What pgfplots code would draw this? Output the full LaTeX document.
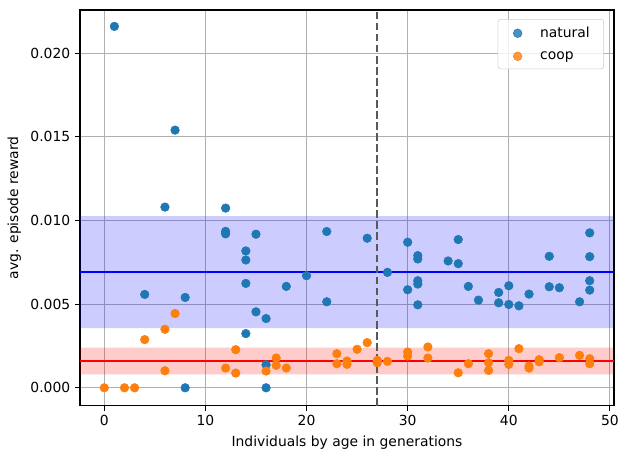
\documentclass[border=0pt]{standalone}
\usepackage{fontspec}
\setmainfont{DejaVu Sans}
\usepackage{pgfplots}
\pgfplotsset{compat=1.18}
\definecolor{tabblue}{HTML}{1F77B4}
\definecolor{taborange}{HTML}{FF7F0E}
\begin{document}
\begin{tikzpicture}
\begin{axis}[
  scale only axis,
  width=384.5pt, height=285pt,
  xmin=-2.4, xmax=50.4,
  ymin=-0.001075, ymax=0.02258,
  xtick={0,10,20,30,40,50},
  ytick={0,0.005,0.010,0.015,0.020},
  scaled y ticks=false,
  yticklabel style={/pgf/number format/fixed, /pgf/number format/fixed zerofill, /pgf/number format/precision=3},
  /pgf/number format/assume math mode=true,
  tick label style={font=\fontsize{10}{12}\selectfont},
  label style={font=\fontsize{10}{12}\selectfont},
  xlabel={Individuals by age in generations},
  ylabel={avg. episode reward},
  grid=major,
  grid style={color=black!31, line width=0.8pt},
  tick align=outside, tick pos=left,
  major tick length=3.5pt,
  every tick/.style={black, line width=0.8pt},
  axis line style={line width=0.8pt},
  legend image code/.code={\path (0pt,0pt) (20pt,0pt); \draw[#1] plot coordinates {(10pt,0pt)};},
  legend style={at={(1,1)}, xshift=-7.2pt, yshift=-6.5pt, anchor=north east, draw=black!20, rounded corners=2pt, fill=white, fill opacity=0.8, text opacity=1, font=\fontsize{10}{12}\selectfont, row sep=6.5pt, inner xsep=4pt, inner ysep=4.5pt, nodes={inner xsep=6pt, inner ysep=1pt}},
  legend cell align=left,
]
\addplot[only marks, mark=*, mark size=3.1pt, color=tabblue, mark options={draw=tabblue, fill=tabblue}] coordinates {
(1,0.0216) (4,0.00558) (6,0.0108) (7,0.0154) (8,0.0054) (8,0.0)
(12,0.01074) (12,0.00935) (12,0.0092)
(14,0.00818) (14,0.00764) (14,0.00624) (14,0.00324)
(15,0.00918) (15,0.00454)
(16,0.00414) (16,0.00138) (16,0.0)
(18,0.00606) (20,0.0067) (22,0.00934) (22,0.00514) (26,0.00894) (28,0.0069)
(30,0.0087) (30,0.00586)
(31,0.0079) (31,0.0077) (31,0.0064) (31,0.0062) (31,0.00496)
(34,0.00758) (35,0.00886) (35,0.00742) (36,0.00606) (37,0.00524)
(39,0.0057) (39,0.00508) (40,0.0061) (40,0.00498) (41,0.0049) (42,0.0056)
(44,0.00786) (44,0.00604) (45,0.00598) (47,0.00514)
(48,0.00926) (48,0.00784) (48,0.0064) (48,0.00584)
};
\addlegendentry{natural}
\addplot[only marks, mark=*, mark size=3.1pt, color=taborange, mark options={draw=taborange, fill=taborange}] coordinates {
(0,0) (2,0) (3,0) (4,0.00288) (6,0.0035) (6,0.00102) (7,0.00444)
(12,0.00118) (13,0.00228) (13,0.00088) (16,0.001)
(17,0.00178) (17,0.00134) (18,0.00118)
(23,0.00204) (23,0.00144) (24,0.0016) (24,0.0014) (25,0.0023) (26,0.0027)
(27,0.00164) (27,0.0015) (28,0.00158) (30,0.00214) (30,0.0019)
(32,0.00244) (32,0.00178) (35,0.0009) (36,0.00144)
(38,0.00204) (38,0.0015) (38,0.00104) (40,0.00164) (40,0.0014) (41,0.00234)
(42,0.00118) (42,0.0013) (43,0.00168) (43,0.00155) (45,0.0018) (47,0.00194)
(48,0.00174) (48,0.00144)
};
\addlegendentry{coop}
% bands
\addplot[forget plot, draw=none, fill=blue, fill opacity=0.2] coordinates {(-2.4,0.00356) (50.4,0.00356) (50.4,0.01026) (-2.4,0.01026)} \closedcycle;
\addplot[forget plot, draw=none, fill=red, fill opacity=0.2] coordinates {(-2.4,0.0008) (50.4,0.0008) (50.4,0.0024) (-2.4,0.0024)} \closedcycle;
% mean lines
\addplot[forget plot, blue, line width=1.5pt] coordinates {(-2.4,0.00691) (50.4,0.00691)};
\addplot[forget plot, red, line width=1.5pt] coordinates {(-2.4,0.0016) (50.4,0.0016)};
% vertical dashed line
\addplot[forget plot, color=black!65, line width=1.5pt, dash pattern=on 5.55pt off 2.4pt] coordinates {(27,-0.001075) (27,0.02258)};
\end{axis}
\pgfresetboundingbox
\path ([xshift=-57.6pt,yshift=-33.1pt]current axis.south west) rectangle ([xshift=2.9pt,yshift=7.2pt]current axis.north east);
\end{tikzpicture}
\end{document}
